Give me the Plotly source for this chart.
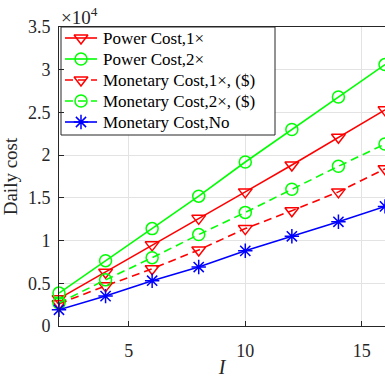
import plotly.graph_objects as go

# Number of items I on the horizontal axis
I_vals = [2, 4, 6, 8, 10, 12, 14, 16]

# Daily cost per scheme, in units of 10^4
power_1x = [0.32, 0.63, 0.95, 1.26, 1.57, 1.885, 2.21, 2.53]
power_2x = [0.385, 0.765, 1.14, 1.52, 1.92, 2.30, 2.68, 3.06]
money_1x = [0.26, 0.47, 0.67, 0.89, 1.14, 1.35, 1.57, 1.84]
money_2x = [0.27, 0.54, 0.80, 1.07, 1.33, 1.60, 1.87, 2.13]
money_no = [0.19, 0.35, 0.53, 0.69, 0.88, 1.05, 1.22, 1.40]

names = ["Power Cost,1×", "Power Cost,2×", "Monetary Cost,1×, ($)",
         "Monetary Cost,2×, ($)", "Monetary Cost,No"]

y_ticks = [0, 0.5, 1, 1.5, 2, 2.5, 3, 3.5]
y_tick_text = ["0", "0.5", "1", "1.5", "2", "2.5", "3", "3.5"]
x_ticks = [5, 10, 15]

RED = "#ff0000"
GREEN = "#00ff00"
BLUE = "#0000ff"
AXIS = "#262626"
FONT = "Liberation Serif, Times New Roman, serif"

W, H = 385, 380
ML, MT, MB = 59, 27, 54
PW, PH = W - ML, H - MT - MB
X_RANGE = [2, 16]
Y_RANGE = [0, 3.5]


def px_to_x(px):
    return X_RANGE[0] + (px - ML) / PW * (X_RANGE[1] - X_RANGE[0])


def py_to_y(py):
    return Y_RANGE[0] + (H - MB - py) / PH * (Y_RANGE[1] - Y_RANGE[0])


series = [
    (power_1x, RED, "solid", "triangle-down-open"),
    (power_2x, GREEN, "solid", "circle-open"),
    (money_1x, RED, "8px,5px", "triangle-down-open"),
    (money_2x, GREEN, "8px,5px", "circle-open"),
    (money_no, BLUE, "solid", "asterisk-open"),
]

fig = go.Figure()
for name, (vals, col, dash, sym) in zip(names, series):
    fig.add_trace(go.Scatter(
        x=I_vals, y=vals, name=name, mode="lines+markers",
        cliponaxis=False, showlegend=False,
        line=dict(color=col, width=1.6, dash=dash),
        marker=dict(symbol=sym, size=12, color=col,
                    line=dict(color=col, width=1.5)),
    ))

# Legend box, key samples and labels (positions in page pixels)
LEG_X0, LEG_X1, LEG_Y0, LEG_Y1 = 61, 275, 27, 135
KEY_X0, KEY_X1, TEXT_X = 65, 97, 101
ROW_Y0, ROW_DY = 38, 21
KEY_XM = (KEY_X0 + KEY_X1) / 2
for i, (name, (vals, col, dash, sym)) in enumerate(zip(names, series)):
    ry = py_to_y(ROW_Y0 + i * ROW_DY)
    fig.add_trace(go.Scatter(
        x=[px_to_x(KEY_X0), px_to_x(KEY_XM), px_to_x(KEY_X1)],
        y=[ry, ry, ry], mode="lines", showlegend=False, hoverinfo="skip",
        line=dict(color=col, width=1.6, dash=dash),
    ))
    fig.add_trace(go.Scatter(
        x=[px_to_x(KEY_XM)], y=[ry], mode="markers",
        showlegend=False, hoverinfo="skip", cliponaxis=False,
        marker=dict(symbol=sym, size=12, color=col,
                    line=dict(color=col, width=1.5)),
    ))
    fig.add_annotation(
        text=name, x=px_to_x(TEXT_X), y=ry,
        xanchor="left", yanchor="middle", showarrow=False,
        font=dict(family=FONT, size=17, color="#000000"),
    )

fig.add_shape(
    type="rect", xref="x", yref="y",
    x0=px_to_x(LEG_X0), x1=px_to_x(LEG_X1),
    y0=py_to_y(LEG_Y1), y1=py_to_y(LEG_Y0),
    line=dict(color=AXIS, width=1), fillcolor="white", layer="between",
)

axis_common = dict(
    showgrid=True, gridcolor="#e3e3e3", gridwidth=1,
    showline=True, linecolor=AXIS, linewidth=1,
    ticks="inside", ticklen=5, tickcolor=AXIS,
    tickfont=dict(family=FONT, size=18, color=AXIS),
    zeroline=False,
)

fig.update_layout(
    width=W, height=H,
    margin=dict(l=ML, r=0, t=MT, b=MB),
    paper_bgcolor="white", plot_bgcolor="white",
    font=dict(family=FONT, color=AXIS),
    showlegend=False,
    xaxis=dict(range=X_RANGE, tickvals=x_ticks, mirror=True,
               ticklabelstandoff=8,
               title=dict(text="<i>I</i>", font=dict(family=FONT, size=20),
                          standoff=0),
               **axis_common),
    yaxis=dict(range=Y_RANGE, tickvals=y_ticks, ticktext=y_tick_text,
               ticklabelstandoff=4,
               title=dict(text="Daily cost", font=dict(family=FONT, size=19),
                          standoff=10),
               **axis_common),
)

fig.add_annotation(
    text="×10<sup>4</sup>", xref="paper", yref="paper", x=0, y=1,
    xanchor="left", yanchor="bottom", showarrow=False,
    font=dict(family=FONT, size=19, color=AXIS), yshift=-3,
)

fig.write_html("out.html")
